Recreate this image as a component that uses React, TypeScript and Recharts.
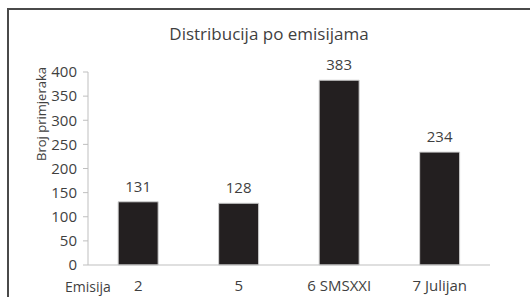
import React from "react";
import { BarChart, Bar, XAxis, YAxis, LabelList, Label } from "recharts";

const categories = ["2", "5", "6 SMSXXI", "7 Julijan"];
const counts = [131, 128, 383, 234];
const yTicks = [0, 50, 100, 150, 200, 250, 300, 350, 400];
const boundaryTicks = [0, 1, 2, 3, 4];
const title = "Distribucija po emisijama";
const yTitle = "Broj primjeraka";
const xTitle = "Emisija";

const data = categories.map((c, i) => ({ name: c, value: counts[i], pos: i + 0.5 }));

const FONT = "'Open Sans', sans-serif";
const TXT = "#3f3f3f";

const XTitle = (props: any) => {
  const vb = props.viewBox || {};
  return (
    <text x={vb.x} y={vb.y + 27} textAnchor="middle" fontFamily={FONT} fontSize={14} fill={TXT}>
      {xTitle}
    </text>
  );
};

const YTitle = (props: any) => {
  const cx = 41;
  const cy = 114;
  return (
    <text
      x={cx}
      y={cy}
      textAnchor="middle"
      dominantBaseline="central"
      transform={`rotate(-90 ${cx} ${cy})`}
      fontFamily={FONT}
      fontSize={13}
      fill={TXT}
    >
      {yTitle}
    </text>
  );
};

export default function App() {
  return (
    <div style={{ position: "absolute", left: 0, top: 0, width: 530, height: 297, overflow: "hidden", background: "#fff" }}>
      <div
        style={{
          position: "absolute",
          left: 7,
          top: 8,
          width: 540,
          height: 300,
          borderLeft: "2px solid #4a4a4a",
          borderTop: "2px solid #4a4a4a",
        }}
      />
      <div
        style={{
          position: "absolute",
          left: 0,
          top: 22,
          width: 538,
          textAlign: "center",
          fontFamily: FONT,
          fontSize: 17,
          color: TXT,
          lineHeight: "24px",
        }}
      >
        {title}
      </div>
      <div style={{ position: "absolute", left: 0, top: 0 }}>
        <BarChart
          width={530}
          height={297}
          data={data}
          margin={{ top: 72, right: 40, bottom: 2, left: 28 }}
          barCategoryGap="30%"
        >
          <XAxis
            dataKey="name"
            xAxisId="cat"
            height={30}
            axisLine={{ stroke: "#bfbfbf" }}
            tickLine={false}
            tickSize={0}
            tickMargin={15}
            tick={{ fontFamily: FONT, fontSize: 15, fill: TXT }}
            interval={0}
          >
            <Label content={<XTitle />} />
          </XAxis>
          <XAxis
            xAxisId="bnd"
            dataKey="pos"
            type="number"
            domain={[0, 4]}
            ticks={boundaryTicks}
            axisLine={false}
            tickLine={{ stroke: "#bfbfbf" }}
            tickSize={4}
            tick={false}
            height={0}
            orientation="bottom"
          />
          <YAxis
            domain={[0, 400]}
            ticks={yTicks}
            width={60}
            axisLine={{ stroke: "#bfbfbf" }}
            tickLine={{ stroke: "#bfbfbf" }}
            tickSize={5}
            tickMargin={6}
            interval={0}
            tick={{ fontFamily: FONT, fontSize: 15, fill: TXT }}
          >
            <Label content={<YTitle />} />
          </YAxis>
          <Bar dataKey="value" xAxisId="cat" fill="#231f20" stroke="#d0d0d0" strokeWidth={1} isAnimationActive={false}>
            <LabelList dataKey="value" position="top" offset={10} style={{ fontFamily: FONT, fontSize: 15, fill: TXT }} />
          </Bar>
        </BarChart>
      </div>
    </div>
  );
}
